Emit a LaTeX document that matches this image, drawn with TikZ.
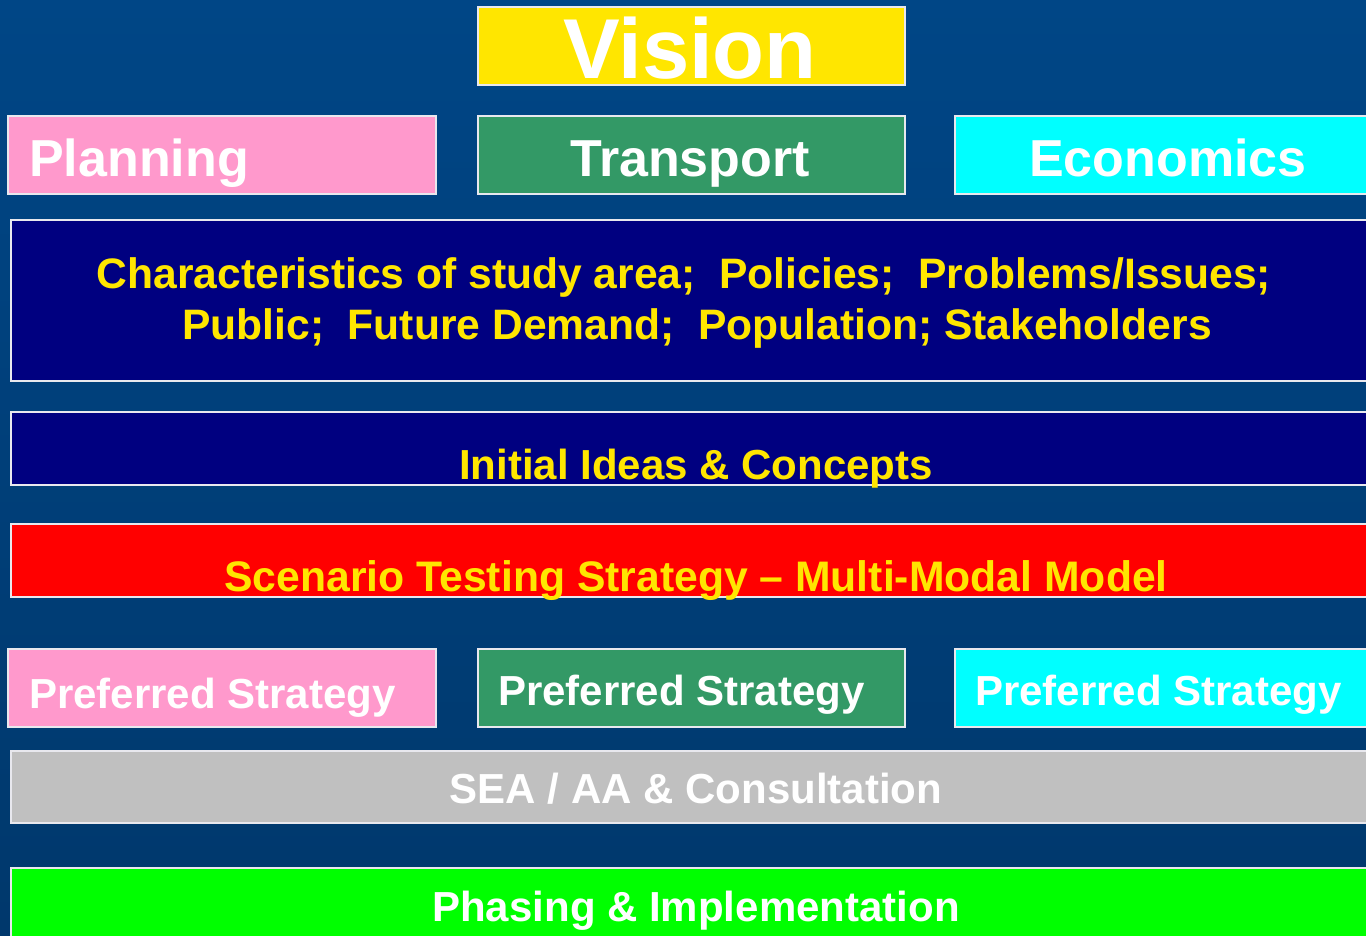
\documentclass[tikz,border=0pt]{standalone}
\usepackage{fontspec}
\setmainfont{Liberation Sans}
\definecolor{bgtop}{RGB}{0,70,134}
\definecolor{bgbot}{RGB}{0,56,108}
\definecolor{vyellow}{RGB}{255,230,0}
\definecolor{vpink}{RGB}{255,153,204}
\definecolor{vgreen}{RGB}{51,153,102}
\definecolor{vcyan}{RGB}{0,255,255}
\definecolor{vnavy}{RGB}{0,0,128}
\definecolor{vred}{RGB}{255,0,0}
\definecolor{vgray}{RGB}{192,192,192}
\definecolor{vlime}{RGB}{0,255,0}
\definecolor{edge}{RGB}{232,232,238}
\tikzset{
  box/.style={draw=edge, line width=1.6pt, anchor=north west, inner sep=0pt},
  lbl/.style={anchor=base, inner sep=0pt, font=\fontsize{42}{50}\selectfont\bfseries},
  big/.style={lbl, font=\fontsize{52}{60}\selectfont\bfseries},
}
\begin{document}
\begin{tikzpicture}[x=1pt,y=-1pt]
\useasboundingbox (0,0) rectangle (1366,935);
\clip (0,0) rectangle (1366,935);
\shade[top color=bgtop, bottom color=bgbot] (0,0) rectangle (1366,935);
% boxes
\node[box, fill=vyellow, minimum width=427pt, minimum height=78pt] (vision) at (477,6) {};
\node[box, fill=vpink, minimum width=428pt, minimum height=78pt] (planning) at (7,115) {};
\node[box, fill=vgreen, minimum width=427pt, minimum height=78pt] (transport) at (477,115) {};
\node[box, fill=vcyan, minimum width=430pt, minimum height=78pt] (economics) at (954,115) {};
\node[box, fill=vnavy, minimum width=1370pt, minimum height=161pt] (charac) at (10,219) {};
\node[box, fill=vnavy, minimum width=1370pt, minimum height=73pt] (ideas) at (10,411) {};
\node[box, fill=vred, minimum width=1370pt, minimum height=73pt] (scenario) at (10,523) {};
\node[box, fill=vpink, minimum width=428pt, minimum height=78pt] (prefA) at (7,648) {};
\node[box, fill=vgreen, minimum width=427pt, minimum height=78pt] (prefB) at (477,648) {};
\node[box, fill=vcyan, minimum width=430pt, minimum height=78pt] (prefC) at (954,648) {};
\node[box, fill=vgray, minimum width=1370pt, minimum height=72pt] (sea) at (10,750) {};
\node[box, fill=vlime, minimum width=1370pt, minimum height=80pt] (phasing) at (10,867) {};
% texts
\node[lbl, text=white, font=\fontsize{85}{90}\selectfont\bfseries] (tvision) at (690,78) {Vision};
\node[big, text=white, anchor=base west] (tplanning) at (29,176) {Planning};
\node[big, text=white] (ttransport) at (690,176) {Transport};
\node[big, text=white] (teconomics) at (1168,176) {Economics};
\node[lbl, text=vyellow, font=\fontsize{42.6}{50}\selectfont\bfseries] (tchar1) at (684,288) {Characteristics of study area;\ \ Policies;\ \ Problems/Issues;};
\node[lbl, text=vyellow, font=\fontsize{42.6}{50}\selectfont\bfseries] (tchar2) at (697,339) {Public;\ \ Future Demand;\ \ Population; Stakeholders};
\node[lbl, text=vyellow] (tideas) at (696,479) {Initial Ideas \& Concepts};
\node[lbl, text=vyellow, font=\fontsize{42.7}{50}\selectfont\bfseries] (tscen) at (696,591) {Scenario Testing Strategy -- Multi-Modal Model};
\node[lbl, text=white, anchor=base west] (tprefA) at (29,708) {Preferred Strategy};
\node[lbl, text=white, anchor=base west] (tprefB) at (498,705) {Preferred Strategy};
\node[lbl, text=white, anchor=base west] (tprefC) at (975,705) {Preferred Strategy};
\node[lbl, text=white] (tsea) at (696,803) {SEA / AA \& Consultation};
\node[lbl, text=white] (tphase) at (696,921) {Phasing \& Implementation};
\end{tikzpicture}
\end{document}
